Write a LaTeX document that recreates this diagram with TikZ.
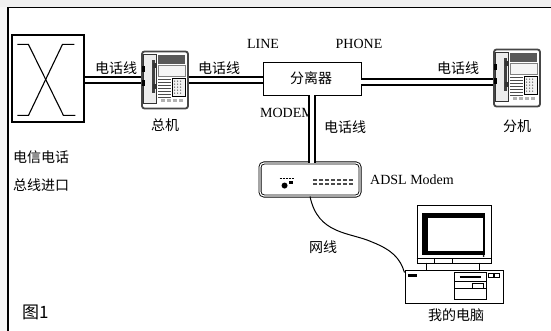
\documentclass[tikz,border=0pt]{standalone}
\usepackage{fontspec}
\setmainfont{Liberation Serif}
\newfontfamily\cjk{Noto Sans CJK SC}

\newcommand{\dianhua}[2]{%
  \node[phonebody] (#1) at (#2) {};
  \begin{scope}[shift={(#1.north west)}]
    \draw[black!80,fill=gray!15] (2,4) rectangle (15,53);
    \fill[black!75] (11,9) rectangle (13.5,42);
    \fill (0.5,15) rectangle (4,21);
    \fill (0.5,29) rectangle (4,35);
    \fill[black!80] (12,12) rectangle (15.5,17);
    \fill[black!80] (12,33) rectangle (15.5,38);
    \fill[gray!70!black] (17,4) rectangle (44,13);
    \draw[gray,fill=gray!8] (17,15) rectangle (44,26);
    \foreach \y in {29,32,...,47} \draw[gray!60!black,line width=1] (17,\y) -- (30,\y);
    \draw[fill=gray!10] (31,28) rectangle (44,46);
    \foreach \i in {33.5,36.5,...,42} \foreach \j in {30.5,33.5,...,44} \fill[black!70] (\i,\j) circle (0.7pt);
    \foreach \i in {20,26,32,38} \fill[gray!60] (\i,48.5) rectangle ++(4,3);
  \end{scope}}

\begin{document}
\begin{tikzpicture}[x=1pt,y=-1pt,
    zh/.style={font=\cjk\fontsize{14}{16}\selectfont,inner sep=0},
    en/.style={font=\fontsize{14}{16}\selectfont,inner sep=0},
    cable/.style={double=white,double distance=4pt,line width=2pt},
    phonebody/.style={draw=gray!55!black,line width=1.8pt,fill=white,rounded corners=2.5pt,
      minimum width=46,minimum height=57,inner sep=0},
    modembox/.style={draw,fill=white,double,double distance=1.2pt,line width=0.9pt,
      rounded corners=4pt,minimum width=100,minimum height=33,inner sep=0},
    plainbox/.style={draw,line width=1.1pt,fill=white,inner sep=0}]
    \useasboundingbox (0,0) rectangle (551,331);
    \fill[gray!12] (0,0) rectangle (551,7.5);
    \fill[gray!6] (0,7.5) rectangle (8,331);
    \draw[line width=1.2pt] (8,331) -- (8,7.5) -- (551,7.5);

    \node[plainbox,minimum width=72,minimum height=87] (jiaohuan) at (48,78.5) {};
    \begin{scope}[shift={(jiaohuan.north west)},line width=1.1pt]
        \draw (6,10) -- (17,10) -- (52,81) -- (64,81);
        \draw (63,10) -- (51,10) -- (17,81) -- (6,81);
    \end{scope}
    \node[zh,anchor=west] (dianxin) at (13,157) {电信电话};
    \node[zh,anchor=west] (jinkou) at (13,185) {总线进口};

    \dianhua{zongji}{165,80}
    \dianhua{fenji}{517,78}
    \node[zh] (zongjilbl) at (165,125) {总机};
    \node[zh] (fenjilbl) at (517,126) {分机};

    \node[plainbox,line width=0.9pt,minimum width=98,minimum height=33] (fenliqi) at (312,78.5) {};
    \node[zh] (fenliqilbl) at (311,78) {分离器};
    \node[en] (line) at (263,44) {LINE};
    \node[en] (phone) at (359,44) {PHONE};
    \node[en] (modemlbl) at (287,113) {MODEM};

    \node[modembox] (modem) at (310,179.5) {};
    \begin{scope}[shift={(modem.north west)}]
        \fill (25,23) circle (3pt);
        \foreach \i in {20,23,...,32} \draw[line width=0.6pt] (\i,16) -- ++(2,0);
        \fill (29,18) rectangle (33,21);
        \foreach \i in {53,59,...,89} {
            \fill[black!70] (\i,16) rectangle ++(4,2.5);
            \fill[black!70] (\i,20) rectangle ++(4,2.5);
        }
    \end{scope}
    \node[en,anchor=west] (adsl) at (370,180) {ADSL Modem};

    \node[plainbox,line width=1pt,minimum width=74,minimum height=58] (xianshiqi) at (454,234) {};
    \begin{scope}[shift={(xianshiqi.north west)}]
        \fill (5,8) rectangle (68,50);
        \fill[white] (11,13) rectangle (66,46);
        \draw[line width=0.7pt] (0,54) -- (74,54);
        \draw[line width=0.7pt] (18,54) -- (18,58) (36,54) -- (36,58);
        \fill (67,51.5) circle (1pt);
        \draw[line width=1.5pt] (10,58) -- (10,65) (63,58) -- (63,65);
    \end{scope}
    \node[plainbox,line width=1pt,minimum width=98,minimum height=33] (jiji) at (454,286.5) {};
    \begin{scope}[shift={(jiji.north west)},line width=0.8pt]
        \draw (50,3) rectangle (82,30);
        \draw[line width=1.6pt] (55,7.5) -- (76,7.5);
        \draw (50,12) -- (82,12) (50,19) -- (82,19);
        \draw (68,14) rectangle (79,19);
        \draw (84,4) rectangle (89,8) (90,4) rectangle (95,8);
        \fill (3,4) rectangle (12,7.5);
    \end{scope}
    \node[zh] (diannao) at (456,315) {我的电脑};

    \draw[cable] (jiaohuan.east |- zongji.west) -- (zongji.west);
    \draw[cable] (zongji.east) -- (zongji.east -| fenliqi.west);
    \draw[cable] ([yshift=-3.5pt]fenliqi.east) -- ([yshift=-3.5pt]fenliqi.east -| fenji.west);
    \draw[cable] (fenliqi.south) -- (fenliqi.south |- modem.north);
    \draw[line width=1pt] (modem.south) .. controls (318,235) and (350,232) .. (372,242)
        .. controls (392,250) and (400,258) .. ([yshift=-3pt]jiji.north west);

    \node[zh] (xian1) at (116,68) {电话线};
    \node[zh] (xian2) at (219,68) {电话线};
    \node[zh] (xian3) at (458,68) {电话线};
    \node[zh] (xian4) at (345,127) {电话线};
    \node[zh] (wangxian) at (323,247) {网线};
    \node[font=\cjk\fontsize{17}{19}\selectfont,inner sep=0,anchor=west] (tu) at (22,312) {图1};
\end{tikzpicture}
\end{document}
